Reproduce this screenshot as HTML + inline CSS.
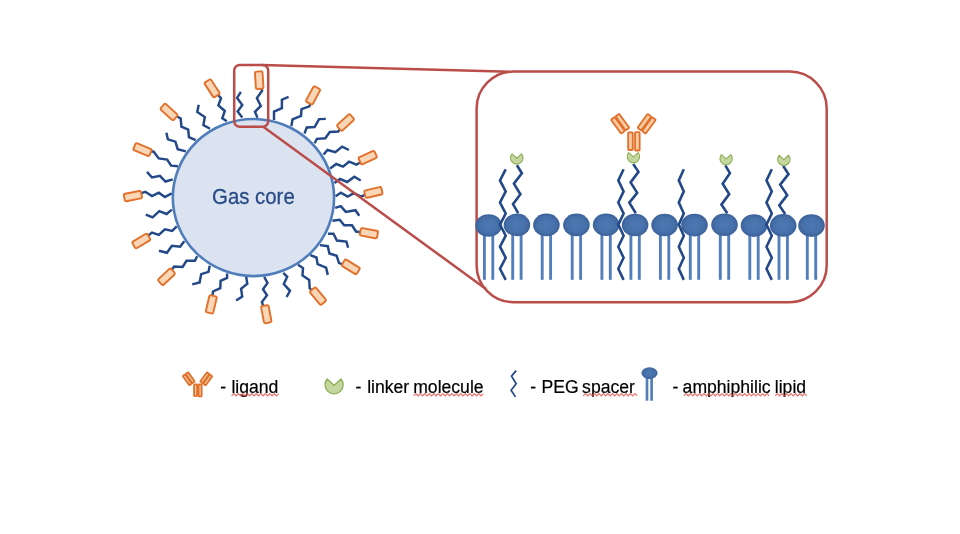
<!DOCTYPE html>
<html><head><meta charset="utf-8"><title>Microbubble</title>
<style>
html,body{margin:0;padding:0;background:#fff;}
body{width:960px;height:534px;overflow:hidden;font-family:"Liberation Sans", sans-serif;}
svg{display:block;}
svg{will-change:transform;}
</style></head><body>
<svg width="960" height="534" viewBox="0 0 960 534" font-family="Liberation Sans, sans-serif">
<defs>
<radialGradient id="hg" cx="50%" cy="50%" r="50%">
<stop offset="0" stop-color="#4D78B1"/>
<stop offset="0.7" stop-color="#4670A9"/>
<stop offset="1" stop-color="#3B6099"/>
</radialGradient>
</defs>
<rect width="960" height="534" fill="#fff"/>
<ellipse cx="253.45" cy="197.55" rx="80.65" ry="78.55" fill="#DCE3F0" stroke="#4F7DBA" stroke-width="2.6"/>
<text transform="translate(253.4,204.45) scale(1,1.12)" x="0" y="0" text-anchor="middle" font-size="20.4" fill="#274B86" stroke="#274B86" stroke-width="0.25">Gas core</text>
<g fill="none" stroke="#234887" stroke-width="2.45" stroke-linejoin="miter" stroke-miterlimit="3"><polyline points="257.5,117.7 254.9,111.8 260.8,105.9 256.9,98.0 262.1,90.8 259.2,80.2"/><polyline points="242.3,117.6 237.6,111.5 242.3,105.0 237.1,97.9 240.9,91.9"/><polyline points="226.8,121.3 222.3,118.3 224.8,111.0 218.4,105.4 221.0,98.2 212.1,88.3"/><polyline points="210.0,128.7 203.4,125.0 204.8,117.0 197.3,111.9 198.7,104.8"/><polyline points="195.7,140.2 188.9,137.2 188.2,129.7 181.4,126.7 180.7,118.5 169.0,112.0"/><polyline points="185.9,151.4 177.7,149.2 175.4,141.7 167.9,139.4 166.4,132.7"/><polyline points="177.9,166.3 171.1,165.7 167.2,159.6 158.8,158.4 153.7,151.7 142.5,149.6"/><polyline points="172.8,179.4 165.5,181.5 159.9,175.8 152.0,177.5 147.0,171.9"/><polyline points="171.7,193.3 164.9,197.0 158.8,192.7 152.0,196.1 145.3,191.8 132.9,196.1"/><polyline points="171.9,209.6 166.6,214.0 159.3,211.2 152.6,217.4 145.8,214.6"/><polyline points="176.7,226.4 172.2,230.9 164.9,229.4 158.8,234.8 152.0,232.6 141.3,241.0"/><polyline points="184.3,241.2 180.1,246.8 171.9,245.7 166.9,252.8 159.0,250.7"/><polyline points="197.2,256.3 194.9,260.8 186.5,260.8 182.6,267.0 174.2,266.5 166.5,276.8"/><polyline points="209.7,265.7 208.5,271.9 201.2,274.1 199.6,282.5 192.2,284.4"/><polyline points="227.1,273.5 227.1,278.0 220.6,280.8 220.3,288.1 213.0,291.5 211.3,304.4"/><polyline points="246.2,276.9 247.3,283.7 241.1,288.7 242.2,296.6 236.1,300.5"/><polyline points="264.2,276.8 267.5,283.0 263.0,289.2 267.0,295.3 261.9,302.1 266.3,314.2"/><polyline points="283.3,272.9 287.2,276.8 283.8,284.1 290.0,290.8 286.6,297.0"/><polyline points="298.0,264.8 303.0,268.1 302.5,275.4 309.2,279.9 309.7,288.3 318.0,296.1"/><polyline points="310.3,255.2 316.5,257.5 317.6,264.2 326.1,267.6 327.8,274.9"/><polyline points="319.9,245.1 327.8,246.2 329.4,253.5 336.7,255.8 339.0,263.1 350.8,266.9"/><polyline points="327.9,233.8 333.5,233.8 336.9,240.5 346.4,241.6 348.1,247.8"/><polyline points="332.4,220.8 339.7,219.7 344.2,225.3 352.0,225.3 356.0,231.5 368.9,233.2"/><polyline points="335.2,207.9 340.8,206.2 345.8,211.9 355.4,210.2 359.3,215.8"/><polyline points="335.6,196.2 340.9,192.8 347.6,196.6 354.0,193.2 361.0,196.5 373.4,192.4"/><polyline points="334.5,183.1 340.1,179.0 347.2,182.0 354.3,176.7 360.7,180.5"/><polyline points="330.2,168.5 336.2,164.0 343.0,166.6 349.0,161.7 356.5,164.7 367.7,157.6"/><polyline points="323.6,154.5 327.5,150.0 335.4,152.2 342.1,146.6 348.9,150.0"/><polyline points="314.6,143.3 316.9,138.8 325.3,138.2 329.8,132.0 338.2,131.5 345.5,122.5"/><polyline points="304.5,133.7 306.7,127.5 314.6,127.0 319.1,119.1 325.8,118.9"/><polyline points="291.4,126.1 292.5,119.3 301.0,116.0 301.5,109.2 309.4,106.4 313.1,95.4"/><polyline points="274.0,119.9 274.0,111.5 281.9,108.1 281.9,99.7 288.6,96.9"/></g>
<g fill="#F9D6B6" stroke="#E2702A" stroke-width="1.9"><rect x="-8.75" y="-3.8" width="17.5" height="7.6" rx="1.6" transform="translate(259.2,80.2) rotate(-93.6)"/><rect x="-8.75" y="-3.8" width="17.5" height="7.6" rx="1.6" transform="translate(212.1,88.3) rotate(-123)"/><rect x="-8.75" y="-3.8" width="17.5" height="7.6" rx="1.6" transform="translate(169,112) rotate(-137.4)"/><rect x="-8.75" y="-3.8" width="17.5" height="7.6" rx="1.6" transform="translate(142.5,149.6) rotate(-157.5)"/><rect x="-8.75" y="-3.8" width="17.5" height="7.6" rx="1.6" transform="translate(132.9,196.1) rotate(168.7)"/><rect x="-8.75" y="-3.8" width="17.5" height="7.6" rx="1.6" transform="translate(141.3,241) rotate(149)"/><rect x="-8.75" y="-3.8" width="17.5" height="7.6" rx="1.6" transform="translate(166.5,276.8) rotate(137)"/><rect x="-8.75" y="-3.8" width="17.5" height="7.6" rx="1.6" transform="translate(211.3,304.4) rotate(103.4)"/><rect x="-8.75" y="-3.8" width="17.5" height="7.6" rx="1.6" transform="translate(266.3,314.2) rotate(79.4)"/><rect x="-8.75" y="-3.8" width="17.5" height="7.6" rx="1.6" transform="translate(318,296.1) rotate(50.2)"/><rect x="-8.75" y="-3.8" width="17.5" height="7.6" rx="1.6" transform="translate(350.8,266.9) rotate(31.6)"/><rect x="-8.75" y="-3.8" width="17.5" height="7.6" rx="1.6" transform="translate(368.9,233.2) rotate(10.6)"/><rect x="-8.75" y="-3.8" width="17.5" height="7.6" rx="1.6" transform="translate(373.4,192.4) rotate(-13)"/><rect x="-8.75" y="-3.8" width="17.5" height="7.6" rx="1.6" transform="translate(367.7,157.6) rotate(-24.8)"/><rect x="-8.75" y="-3.8" width="17.5" height="7.6" rx="1.6" transform="translate(345.5,122.5) rotate(-42.8)"/><rect x="-8.75" y="-3.8" width="17.5" height="7.6" rx="1.6" transform="translate(313.1,95.4) rotate(-61.9)"/></g>
<g fill="none" stroke="#BA4D4A" stroke-width="2.5">
<line x1="262" y1="65.0" x2="510" y2="71.8"/>
<line x1="263.6" y1="127" x2="486" y2="289"/>
<rect x="234.2" y="65" width="34" height="61.7" rx="5.5"/>
<rect x="476.6" y="71.6" width="350.1" height="230.6" rx="37"/>
</g>
<g stroke="#527FBC" stroke-width="2.9"><line x1="484.4" y1="233" x2="484.4" y2="279.8"/><line x1="492.8" y1="233" x2="492.8" y2="279.8"/><line x1="512.7" y1="233" x2="512.7" y2="279.8"/><line x1="521.1" y1="233" x2="521.1" y2="279.8"/><line x1="542.2" y1="233" x2="542.2" y2="279.8"/><line x1="550.6" y1="233" x2="550.6" y2="279.8"/><line x1="572.2" y1="233" x2="572.2" y2="279.8"/><line x1="580.6" y1="233" x2="580.6" y2="279.8"/><line x1="601.9" y1="233" x2="601.9" y2="279.8"/><line x1="610.3" y1="233" x2="610.3" y2="279.8"/><line x1="630.9" y1="233" x2="630.9" y2="279.8"/><line x1="639.3" y1="233" x2="639.3" y2="279.8"/><line x1="660.4" y1="233" x2="660.4" y2="279.8"/><line x1="668.8" y1="233" x2="668.8" y2="279.8"/><line x1="690.3" y1="233" x2="690.3" y2="279.8"/><line x1="698.7" y1="233" x2="698.7" y2="279.8"/><line x1="720.3" y1="233" x2="720.3" y2="279.8"/><line x1="728.7" y1="233" x2="728.7" y2="279.8"/><line x1="749.8" y1="233" x2="749.8" y2="279.8"/><line x1="758.2" y1="233" x2="758.2" y2="279.8"/><line x1="779.0" y1="233" x2="779.0" y2="279.8"/><line x1="787.4" y1="233" x2="787.4" y2="279.8"/><line x1="807.3" y1="233" x2="807.3" y2="279.8"/><line x1="815.7" y1="233" x2="815.7" y2="279.8"/></g>
<g fill="url(#hg)"><ellipse cx="488.6" cy="225.5" rx="13.3" ry="11.3"/><ellipse cx="516.9" cy="224.9" rx="13.3" ry="11.3"/><ellipse cx="546.4" cy="224.9" rx="13.3" ry="11.3"/><ellipse cx="576.4" cy="224.9" rx="13.3" ry="11.3"/><ellipse cx="606.1" cy="224.8" rx="13.3" ry="11.3"/><ellipse cx="635.1" cy="225.0" rx="13.3" ry="11.3"/><ellipse cx="664.6" cy="225.0" rx="13.3" ry="11.3"/><ellipse cx="694.5" cy="225.1" rx="13.3" ry="11.3"/><ellipse cx="724.5" cy="224.7" rx="13.3" ry="11.3"/><ellipse cx="754.0" cy="225.6" rx="13.3" ry="11.3"/><ellipse cx="783.2" cy="225.4" rx="13.3" ry="11.3"/><ellipse cx="811.5" cy="225.6" rx="13.3" ry="11.3"/></g>
<g fill="none" stroke="#234887" stroke-width="2.6" stroke-linejoin="miter"><polyline points="505.7,169.3 500.0,180.4 505.7,191.4 500.0,202.5 505.7,213.5 500.0,224.6 505.7,235.7 500.0,246.7 505.7,257.8 500.0,268.8 505.7,279.9"/><polyline points="623.6,169.3 618.3,180.4 623.6,191.4 618.3,202.5 623.6,213.5 618.3,224.6 623.6,235.7 618.3,246.7 623.6,257.8 618.3,268.8 623.6,279.9"/><polyline points="683.8,169.3 678.8,180.4 683.8,191.4 678.8,202.5 683.8,213.5 678.8,224.6 683.8,235.7 678.8,246.7 683.8,257.8 678.8,268.8 683.8,279.9"/><polyline points="771.8,169.3 766.5,180.4 771.8,191.4 766.5,202.5 771.8,213.5 766.5,224.6 771.8,235.7 766.5,246.7 771.8,257.8 766.5,268.8 771.8,279.9"/><polyline points="516.9,165.3 521.9,173.2 513.9,183.7 520.4,194.2 513,204.1 518.2,213.2"/><polyline points="633.2,164 638.5,171.9 630.6,182.4 637.2,192.9 629.3,202.7 635.8,213.2"/><polyline points="725.3,165.3 729.9,173.2 722.7,183.7 729.2,194.1 721.4,204.6 727.3,213.2"/><polyline points="783.2,166 788.5,174.1 780.2,184.6 787.2,195.1 779.3,205.4 785.2,213.9"/></g>
<path d="M516.75,158.26 L521.50,153.96 A6.2,6.2 0 1 1 512.00,153.96 Z" fill="#C4D79E" stroke="#8DAE57" stroke-width="1.1" stroke-linejoin="round"/>
<path d="M633.45,156.96 L638.20,152.66 A6.2,6.2 0 1 1 628.70,152.66 Z" fill="#C4D79E" stroke="#8DAE57" stroke-width="1.1" stroke-linejoin="round"/>
<path d="M726.15,158.86 L730.90,154.56 A6.2,6.2 0 1 1 721.40,154.56 Z" fill="#C4D79E" stroke="#8DAE57" stroke-width="1.1" stroke-linejoin="round"/>
<path d="M783.85,159.56 L788.60,155.26 A6.2,6.2 0 1 1 779.10,155.26 Z" fill="#C4D79E" stroke="#8DAE57" stroke-width="1.1" stroke-linejoin="round"/>
<g transform="translate(633.45,0) scale(1.0)" fill="#F7CBA3" stroke="#E2702A" stroke-width="1.800"><rect x="-5.3" y="132.3" width="4.6" height="17.7" rx="0.8"/><rect x="1.6" y="132.2" width="4.6" height="18.3" rx="0.8"/><rect x="-8.6" y="-2.3" width="17.2" height="4.6" rx="0.8" transform="translate(-13.3,123.7) rotate(54) translate(0,-2.75)"/><rect x="-8.6" y="-2.3" width="17.2" height="4.6" rx="0.8" transform="translate(13.2,123.8) rotate(-54) translate(0,-2.75)"/><rect x="-8.6" y="-2.3" width="17.2" height="4.6" rx="0.8" transform="translate(-13.3,123.7) rotate(54) translate(0,2.75)"/><rect x="-8.6" y="-2.3" width="17.2" height="4.6" rx="0.8" transform="translate(13.2,123.8) rotate(-54) translate(0,2.75)"/></g>
<g transform="translate(197.55,297.124) scale(0.66)" fill="#F7CBA3" stroke="#E2702A" stroke-width="2.727"><rect x="-5.3" y="132.3" width="4.6" height="17.7" rx="0.8"/><rect x="1.6" y="132.2" width="4.6" height="18.3" rx="0.8"/><rect x="-8.6" y="-2.3" width="17.2" height="4.6" rx="0.8" transform="translate(-13.3,123.7) rotate(54) translate(0,-2.75)"/><rect x="-8.6" y="-2.3" width="17.2" height="4.6" rx="0.8" transform="translate(13.2,123.8) rotate(-54) translate(0,-2.75)"/><rect x="-8.6" y="-2.3" width="17.2" height="4.6" rx="0.8" transform="translate(-13.3,123.7) rotate(54) translate(0,2.75)"/><rect x="-8.6" y="-2.3" width="17.2" height="4.6" rx="0.8" transform="translate(13.2,123.8) rotate(-54) translate(0,2.75)"/></g>
<path d="M334.10,385.25 L341.03,378.98 A9.05,9.05 0 1 1 327.17,378.98 Z" fill="#C4D79E" stroke="#8DAE57" stroke-width="1.3" stroke-linejoin="round"/>
<polyline points="516.2,370.6 511.5,376.1 516.2,383.7 511.1,390.3 515.5,396.9" fill="none" stroke="#24498A" stroke-width="1.7"/>
<line x1="647.0" y1="377" x2="647.0" y2="400.7" stroke="#527FBC" stroke-width="2.7"/>
<line x1="651.6" y1="377" x2="651.6" y2="400.7" stroke="#527FBC" stroke-width="2.7"/>
<ellipse cx="649.5" cy="373.1" rx="8.1" ry="5.8" fill="url(#hg)"/>
<g font-size="17.6" fill="#000" stroke="#000" stroke-width="0.2">
<text x="220.3" y="392.6">-</text>
<text x="231.4" y="392.6">ligand</text>
<text x="355.6" y="392.6">-</text>
<text x="367.2" y="392.6">linker</text>
<text x="413.2" y="392.6">molecule</text>
<text x="530.2" y="392.6">-</text>
<text x="541.5" y="392.6">PEG</text>
<text x="582.1" y="392.6">spacer</text>
<text x="672.5" y="392.6">-</text>
<text x="682.6" y="392.6">amphiphilic</text>
<text x="774.8" y="392.6">lipid</text>
</g>
<g fill="none" stroke="#E9544E" stroke-width="1.1" opacity="0.85"><path d="M231.6,395.9 L233.85,393.6 L236.10,395.9 L238.35,393.6 L240.60,395.9 L242.85,393.6 L245.10,395.9 L247.35,393.6 L249.60,395.9 L251.85,393.6 L254.10,395.9 L256.35,393.6 L258.60,395.9 L260.85,393.6 L263.10,395.9 L265.35,393.6 L267.60,395.9 L269.85,393.6 L272.10,395.9 L274.35,393.6 L276.60,395.9 L278.85,393.6"/><path d="M413.6,395.9 L415.85,393.6 L418.10,395.9 L420.35,393.6 L422.60,395.9 L424.85,393.6 L427.10,395.9 L429.35,393.6 L431.60,395.9 L433.85,393.6 L436.10,395.9 L438.35,393.6 L440.60,395.9 L442.85,393.6 L445.10,395.9 L447.35,393.6 L449.60,395.9 L451.85,393.6 L454.10,395.9 L456.35,393.6 L458.60,395.9 L460.85,393.6 L463.10,395.9 L465.35,393.6 L467.60,395.9 L469.85,393.6 L472.10,395.9 L474.35,393.6 L476.60,395.9 L478.85,393.6 L481.10,395.9 L483.35,393.6"/><path d="M583.2,395.9 L585.45,393.6 L587.70,395.9 L589.95,393.6 L592.20,395.9 L594.45,393.6 L596.70,395.9 L598.95,393.6 L601.20,395.9 L603.45,393.6 L605.70,395.9 L607.95,393.6 L610.20,395.9 L612.45,393.6 L614.70,395.9 L616.95,393.6 L619.20,395.9 L621.45,393.6 L623.70,395.9 L625.95,393.6 L628.20,395.9 L630.45,393.6 L632.70,395.9 L634.95,393.6 L637.20,395.9"/><path d="M683.8,395.9 L686.05,393.6 L688.30,395.9 L690.55,393.6 L692.80,395.9 L695.05,393.6 L697.30,395.9 L699.55,393.6 L701.80,395.9 L704.05,393.6 L706.30,395.9 L708.55,393.6 L710.80,395.9 L713.05,393.6 L715.30,395.9 L717.55,393.6 L719.80,395.9 L722.05,393.6 L724.30,395.9 L726.55,393.6 L728.80,395.9 L731.05,393.6 L733.30,395.9 L735.55,393.6 L737.80,395.9 L740.05,393.6 L742.30,395.9 L744.55,393.6 L746.80,395.9 L749.05,393.6 L751.30,395.9 L753.55,393.6 L755.80,395.9 L758.05,393.6 L760.30,395.9 L762.55,393.6 L764.80,395.9 L767.05,393.6 L769.30,395.9"/><path d="M775.2,395.9 L777.45,393.6 L779.70,395.9 L781.95,393.6 L784.20,395.9 L786.45,393.6 L788.70,395.9 L790.95,393.6 L793.20,395.9 L795.45,393.6 L797.70,395.9 L799.95,393.6 L802.20,395.9 L804.45,393.6 L806.70,395.9"/></g>
</svg>
</body></html>
